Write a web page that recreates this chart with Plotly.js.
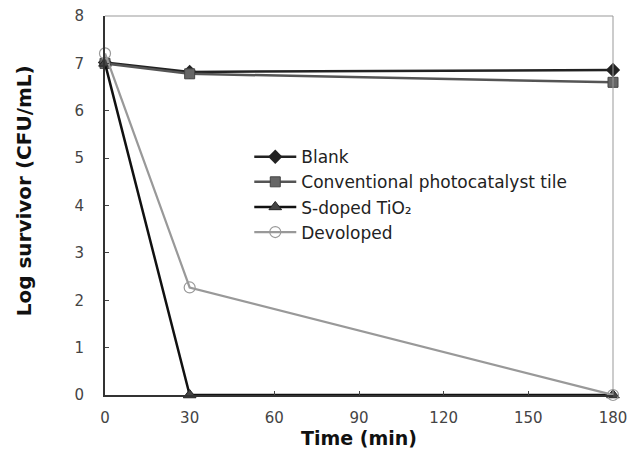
<!DOCTYPE html>
<html><head><meta charset="utf-8">
<script src="https://cdn.plot.ly/plotly-3.0.1.min.js"></script>
<style>body{margin:0;background:#fff}#c{width:627px;height:452px}</style>
</head><body><div id="c"></div>
<script>
var time = [0, 30, 180];
var blank = [7.02, 6.82, 6.86];
var conventional = [7.0, 6.78, 6.6];
var sdoped = [7.0, 0, 0];
var developed = [7.21, 2.27, 0];
var names = ['Blank', 'Conventional photocatalyst tile', 'S-doped TiO\u2082', 'Devoloped'];
var xTicks = [0, 30, 60, 90, 120, 150, 180];

var FONT = 'DejaVu Sans, Liberation Sans, Arial, sans-serif';
var traces = [
  {x: time, y: blank, name: names[0], mode: 'lines+markers',
   line: {color: '#222', width: 2.5}, marker: {symbol: 'diamond', size: 11, color: '#222'}},
  {x: time, y: conventional, name: names[1], mode: 'lines+markers',
   line: {color: '#555', width: 2.5}, marker: {symbol: 'square', size: 10, color: '#666', line: {color: '#444', width: 1}}},
  {x: time, y: sdoped, name: names[2], mode: 'lines+markers',
   line: {color: '#111', width: 2.5}, marker: {symbol: 'triangle-up', size: 11, color: '#444', line: {color: '#222', width: 1}}},
  {x: time, y: developed, name: names[3], mode: 'lines+markers',
   line: {color: '#999', width: 2.2}, marker: {symbol: 'circle-open', size: 11, color: '#999', line: {width: 1.2}}}
];
traces.forEach(function(t){ t.cliponaxis = false; });

var layout = {
  width: 627, height: 452,
  margin: {l: 105, r: 14, t: 16, b: 57},
  paper_bgcolor: '#fff', plot_bgcolor: '#fff',
  font: {family: FONT, color: '#333'},
  showlegend: true,
  legend: {x: 0.284, y: 0.675, xanchor: 'left', yanchor: 'top', bgcolor: 'rgba(0,0,0,0)',
           font: {size: 17, color: '#222', family: FONT}, tracegroupgap: 0, itemwidth: 42},
  xaxis: {range: [0, 180], tickvals: xTicks, ticks: 'inside', ticklen: 4, tickcolor: '#444',
          showline: true, linecolor: '#333', linewidth: 2, showgrid: false, zeroline: false,
          ticklabelstandoff: 8, ticklabeloverflow: 'allow',
          tickfont: {size: 15, color: '#444', family: FONT}},
  yaxis: {range: [0, 8], dtick: 1, ticks: 'inside', ticklen: 4, tickcolor: '#444',
          showline: true, linecolor: '#333', linewidth: 2, showgrid: false, zeroline: false,
          ticklabelstandoff: 16,
          tickfont: {size: 15, color: '#444', family: FONT}},
  annotations: [
    {text: 'Log survivor (CFU/mL)', xref: 'paper', yref: 'paper', x: -0.159, y: 0.538,
     xanchor: 'center', yanchor: 'middle', textangle: -90, showarrow: false,
     font: {size: 20, color: '#111', family: FONT, weight: 'bold'}},
    {text: 'Time (min)', xref: 'paper', yref: 'paper', x: 0.5, y: -0.114,
     xanchor: 'center', yanchor: 'middle', showarrow: false,
     font: {size: 19, color: '#111', family: FONT, weight: 'bold'}}
  ],
  shapes: [
    {type: 'line', xref: 'paper', yref: 'paper', x0: 0, x1: 1, y0: 1, y1: 1, line: {color: '#999', width: 1}},
    {type: 'line', xref: 'paper', yref: 'paper', x0: 1, x1: 1, y0: 0, y1: 1, line: {color: '#999', width: 1}}
  ]
};
Plotly.newPlot('c', traces, layout, {displayModeBar: false, staticPlot: true});
</script>
</body></html>
